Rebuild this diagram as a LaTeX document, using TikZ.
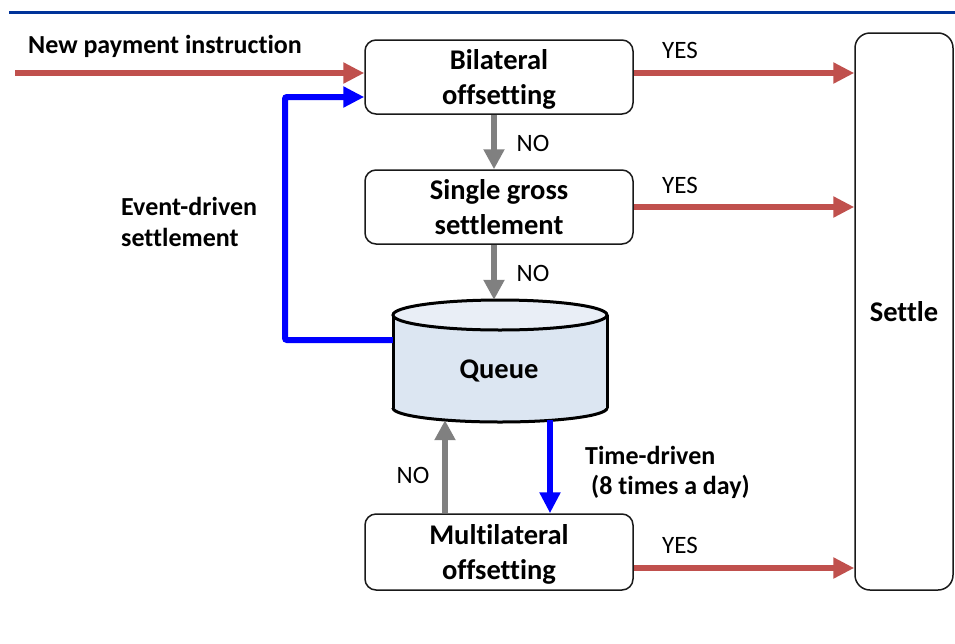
\documentclass[tikz,border=0pt]{standalone}
\usepackage{fontspec}
\setmainfont{Carlito}[Ligatures=CommonOff]
\usetikzlibrary{arrows.meta,calc}
\definecolor{redarr}{HTML}{C0504D}
\definecolor{grayarr}{HTML}{808080}
\definecolor{bluearr}{HTML}{0000FF}
\definecolor{topline}{HTML}{003399}
\definecolor{qbody}{HTML}{DCE6F2}
\definecolor{qtop}{HTML}{E9EEF6}
\newcommand\twolines[2]{\raisebox{-3pt}[\height][\depth]{\begin{tabular}{@{}c@{}}#1\\#2\end{tabular}}}
\tikzset{
  procbox/.style={draw=black!90, line width=1.5pt, rounded corners=11pt, fill=white,
    minimum width=268pt, minimum height=74pt, align=center, inner sep=0pt,
    font=\bfseries\fontsize{28.5}{35}\selectfont},
  redarrow/.style={draw=redarr, line width=6.5pt, -{Triangle[length=21pt,width=20pt]}},
  grayarrow/.style={draw=grayarr, line width=6pt, -{Triangle[length=20pt,width=20pt]}},
  bluearrow/.style={draw=bluearr, line width=6pt, -{Triangle[length=21pt,width=20pt]}},
  yesno/.style={font=\fontsize{25}{29}\selectfont, inner sep=0pt},
  blabel/.style={font=\bfseries\fontsize{26}{31.5}\selectfont, inner sep=0pt, align=left},
}
\begin{document}
\begin{tikzpicture}[x=1pt,y=-1pt]
\useasboundingbox (0,0) rectangle (955,643);
\fill[white] (0,0) rectangle (955,643);
% top rule
\draw[topline, line width=2.6pt] (9,12.3) -- (955,12.3);

% boxes
\node[procbox] (bil) at (499,77) {\twolines{Bilateral}{offsetting}};
\node[procbox] (sgl) at (499,207) {\twolines{Single gross}{settlement}};
\node[procbox, minimum height=76pt] (mul) at (499,552) {\twolines{Multilateral}{offsetting}};
\node[draw=black!90, line width=1.5pt, rounded corners=15pt, minimum width=98pt,
  minimum height=557pt, inner sep=0pt, font=\bfseries\fontsize{28.5}{34}\selectfont]
  (settle) at (904,311.5) {Settle};

% queue cylinder
\fill[qbody] (393,315) rectangle (607,408);
\fill[qbody] (500,408) ellipse [x radius=107, y radius=14];
\begin{scope}
  \clip (380,408) rectangle (620,430);
  \draw[line width=3pt] (500,408) ellipse [x radius=107, y radius=14];
\end{scope}
\draw[line width=3pt] (393,315) -- (393,408) (607,315) -- (607,408);
\draw[line width=3pt, fill=qtop] (500,315) ellipse [x radius=107, y radius=15];
\node[minimum width=214pt, minimum height=122pt, inner sep=0pt] (queue) at (500,361) {};
\node[font=\bfseries\fontsize{28.5}{34}\selectfont, inner sep=0pt] (qlabel) at (499,371) {Queue};

% incoming
\coordinate (start) at (15,73);
\draw[redarrow] (start) -- ([yshift=4pt]bil.west);
\node[blabel, anchor=west] (newlbl) at (28,46) {New payment instruction};

% YES arrows
\draw[redarrow] ([yshift=4pt]bil.east) -- ([yshift=4pt]bil.east -| settle.west);
\draw[redarrow] (sgl.east) -- (sgl.east -| settle.west);
\draw[redarrow] ([yshift=-16pt]mul.east) -- ([yshift=-16pt]mul.east -| settle.west);
\node[yesno] (yes1) at (680,50) {YES};
\node[yesno] (yes2) at (680,185) {YES};
\node[yesno] (yes3) at (680,545) {YES};

% NO arrows
\draw[grayarrow] ([xshift=-5pt]bil.south) -- ([xshift=-5pt]sgl.north);
\draw[grayarrow] ([xshift=-5pt]sgl.south) -- ([xshift=-5pt]sgl.south |- queue.north);
\draw[grayarrow] ([xshift=-54pt]mul.north) -- ([xshift=-55pt,yshift=2pt]queue.south);
\node[yesno] (no1) at (533,143) {NO};
\node[yesno] (no2) at (533,273) {NO};
\node[yesno] (no3) at (413,475) {NO};

% time-driven
\draw[bluearrow] ([xshift=50pt,yshift=2pt]queue.south) -- ([xshift=51pt]mul.north);
\node[blabel, anchor=west] (tlbl1) at (585,455) {Time-driven};
\node[blabel, anchor=west] (tlbl2) at (591,487) {(8 times a day)};

% event-driven
\coordinate (evcorner) at (285,97);
\draw[bluearrow, rounded corners=2pt] ([yshift=21pt]queue.west) -| (evcorner) -- ([yshift=-20pt]bil.west);
\node[blabel, anchor=west] (evlbl) at (121,222) {Event-driven\\settlement};
\end{tikzpicture}
\end{document}
